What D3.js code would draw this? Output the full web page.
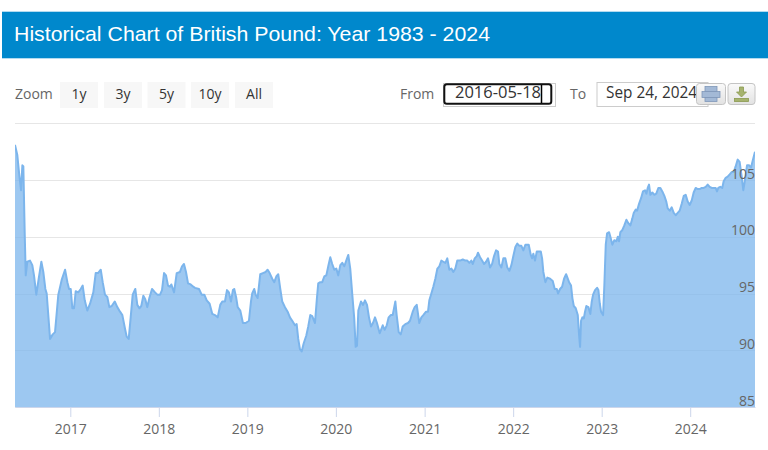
<!DOCTYPE html>
<html>
<head>
<meta charset="utf-8">
<script src="https://cdn.jsdelivr.net/npm/d3@7/dist/d3.min.js"></script>
<style>
  html, body { margin: 0; padding: 0; background: #fff; }
  svg { display: block; }
</style>
</head>
<body>
<svg id="chart" width="768" height="450"></svg>
<script>
// ---------------- data ----------------
const titleText = "Historical Chart of British Pound: Year 1983 - 2024";
const zoomButtons = ["1y", "3y", "5y", "10y", "All"];
const fromText = "2016-05-18";
const toText = "Sep 24, 2024";
const yearTicks = [2017, 2018, 2019, 2020, 2021, 2022, 2023, 2024];
const yGridValues = [85, 90, 95, 100, 105, 110];
const yTickLabels = [85, 90, 95, 100, 105];

// dates as decimal years
const yearFrac = [
  2016.377,2016.403,2016.426,2016.445,2016.460,2016.471,2016.487,2016.498,2016.516,2016.546,
  2016.572,2016.591,2016.617,2016.644,2016.674,2016.696,2016.719,2016.734,2016.772,2016.802,
  2016.828,2016.865,2016.903,2016.941,2016.967,2016.986,
  2017.005,2017.023,2017.042,2017.061,2017.090,2017.118,2017.140,2017.163,2017.192,2017.223,
  2017.260,2017.287,2017.313,2017.344,2017.366,2017.392,2017.418,2017.441,2017.468,2017.502,
  2017.531,2017.562,2017.588,2017.618,2017.637,2017.660,2017.682,2017.705,2017.734,2017.757,
  2017.780,2017.802,2017.825,2017.847,2017.870,2017.893,2017.923,2017.957,2017.983,
  2018.014,2018.036,2018.059,2018.081,2018.104,2018.126,2018.141,2018.172,2018.202,2018.239,
  2018.262,2018.284,2018.307,2018.330,2018.360,2018.389,2018.409,2018.454,2018.484,2018.514,
  2018.541,2018.574,2018.604,2018.634,2018.665,2018.694,2018.717,2018.747,2018.770,2018.792,
  2018.815,2018.837,2018.852,2018.875,2018.891,2018.920,2018.950,2018.981,
  2019.018,2019.041,2019.055,2019.078,2019.094,2019.116,2019.146,2019.176,2019.207,2019.229,
  2019.252,2019.281,2019.304,2019.327,2019.349,2019.372,2019.394,2019.425,2019.455,2019.481,
  2019.507,2019.538,2019.557,2019.575,2019.594,2019.614,2019.636,2019.666,2019.688,2019.711,
  2019.733,2019.764,2019.786,2019.801,2019.824,2019.846,2019.869,2019.892,2019.914,2019.937,
  2019.959,2019.982,
  2020.005,2020.027,2020.050,2020.072,2020.095,2020.117,2020.140,2020.162,2020.185,2020.207,
  2020.223,2020.238,2020.253,2020.283,2020.306,2020.328,2020.351,2020.373,2020.396,2020.418,
  2020.441,2020.463,2020.494,2020.528,2020.550,2020.573,2020.595,2020.618,2020.640,2020.670,
  2020.685,2020.708,2020.731,2020.753,2020.782,2020.813,2020.835,2020.866,2020.888,2020.911,
  2020.940,2020.963,2020.985,
  2021.016,2021.038,2021.053,2021.076,2021.098,2021.121,2021.144,2021.166,2021.189,2021.211,
  2021.234,2021.256,2021.279,2021.302,2021.324,2021.347,2021.369,2021.400,2021.431,2021.460,
  2021.482,2021.505,2021.528,2021.544,2021.566,2021.589,2021.603,2021.626,2021.649,2021.671,
  2021.694,2021.716,2021.739,2021.762,2021.784,2021.807,2021.829,2021.844,2021.867,2021.889,
  2021.912,2021.934,2021.957,2021.980,
  2022.002,2022.025,2022.047,2022.070,2022.093,2022.115,2022.138,2022.176,2022.199,2022.214,
  2022.228,2022.247,2022.267,2022.289,2022.312,2022.327,2022.341,2022.364,2022.386,2022.417,
  2022.447,2022.470,2022.493,2022.507,2022.530,2022.553,2022.575,2022.598,2022.632,2022.654,
  2022.669,2022.685,2022.707,2022.730,2022.745,2022.756,2022.767,2022.782,2022.798,2022.812,
  2022.827,2022.850,2022.872,2022.888,2022.903,2022.925,2022.948,2022.963,2022.979,2022.993,
  2023.016,2023.030,2023.046,2023.061,2023.084,2023.098,2023.121,2023.143,2023.166,2023.182,
  2023.196,2023.211,2023.234,2023.256,2023.279,2023.301,2023.324,2023.346,2023.362,2023.385,
  2023.400,2023.422,2023.445,2023.467,2023.490,2023.505,2023.520,2023.535,2023.550,2023.572,
  2023.595,2023.617,2023.640,2023.663,2023.685,2023.708,2023.730,2023.746,2023.769,2023.791,
  2023.814,2023.836,2023.859,2023.881,2023.904,2023.927,2023.949,2023.972,2023.994,
  2024.017,2024.039,2024.062,2024.084,2024.107,2024.130,2024.152,2024.175,2024.197,2024.220,
  2024.242,2024.265,2024.287,2024.302,2024.316,2024.339,2024.361,2024.377,2024.400,2024.422,
  2024.445,2024.467,2024.490,2024.512,2024.535,2024.557,2024.580,2024.598,2024.617,2024.640,
  2024.662,2024.685,2024.707,2024.730
];

const gbpIndex = [
  108.1,107.2,105.4,104.1,106.3,106.2,100.1,96.6,97.8,97.9,
  97.5,96.6,94.9,96.3,97.8,96.9,95.4,95.0,91.0,91.4,
  91.6,94.9,96.2,97.1,96.0,95.4,
  95.4,93.7,93.7,95.2,95.1,95.4,95.7,94.4,93.5,94.1,
  95.1,96.8,96.8,97.1,96.0,94.9,94.7,93.8,93.9,94.3,
  93.8,93.4,93.1,91.9,91.2,91.0,92.9,94.9,95.4,94.0,
  93.7,93.9,94.8,94.5,93.8,94.6,95.4,95.1,94.9,
  94.9,95.3,96.8,96.6,95.7,95.6,95.8,95.1,96.8,96.9,
  97.4,97.6,96.9,95.9,95.8,95.6,95.5,95.4,94.9,94.9,
  94.4,94.1,93.2,93.1,92.9,94.0,94.3,94.3,95.3,95.1,
  94.3,95.3,95.4,94.6,93.8,93.5,92.4,92.4,
  92.6,94.3,95.0,95.4,94.9,94.6,96.7,96.8,96.9,97.1,
  96.8,96.3,96.0,96.5,96.7,95.4,94.3,93.8,93.4,92.9,
  92.6,92.2,92.3,91.0,90.1,89.9,90.6,91.3,92.1,93.1,
  93.0,92.4,94.6,95.9,96.0,96.0,96.5,96.6,97.4,98.2,
  97.6,97.1,
  97.2,96.6,97.5,97.7,97.4,97.9,98.4,97.2,94.9,92.8,
  90.3,90.4,93.5,94.3,94.0,94.4,94.0,92.9,92.1,92.4,
  92.9,92.4,91.5,92.2,91.8,92.2,92.9,93.1,93.1,94.3,
  93.1,91.6,91.4,92.1,92.3,92.4,92.6,93.4,93.8,94.0,
  92.4,92.9,93.1,
  93.4,93.4,94.4,95.0,95.6,96.3,97.2,97.4,97.9,97.8,
  97.7,98.1,97.1,97.2,96.9,97.2,97.9,97.9,98.0,97.9,
  97.9,97.7,97.9,97.6,98.1,98.3,98.6,98.2,97.9,97.6,
  97.8,98.1,97.3,97.6,98.3,98.8,98.7,97.6,97.3,98.1,
  98.1,97.3,97.0,97.5,
  98.3,99.1,99.4,99.2,99.2,98.8,99.3,99.3,98.4,98.1,
  98.5,97.9,98.7,98.7,98.7,98.1,96.9,96.0,96.4,96.3,
  96.1,95.4,95.4,95.0,95.4,95.6,96.3,96.7,96.0,95.7,
  94.6,93.9,93.7,93.1,91.3,90.3,92.6,92.9,92.8,93.4,
  93.9,93.8,93.2,94.3,94.9,95.3,95.5,95.3,94.1,93.4,
  93.1,95.7,99.3,100.3,100.4,100.0,99.3,99.7,99.6,100.0,
  99.6,100.4,100.6,101.0,101.5,101.2,101.0,101.6,102.1,102.4,
  102.3,102.9,103.4,104.0,104.1,103.8,104.3,104.6,103.7,103.9,
  103.7,103.8,104.3,104.3,104.0,103.6,103.1,102.5,102.3,102.6,
  102.1,101.9,102.1,102.3,102.9,103.6,103.7,103.1,102.8,
  103.2,103.9,104.3,104.2,104.2,104.3,104.3,104.4,104.6,104.4,
  104.3,104.3,104.3,104.0,104.3,104.4,104.3,104.9,105.2,105.3,
  105.5,105.7,105.7,106.2,106.8,106.6,105.3,104.1,105.0,106.3,
  106.3,106.1,106.8,107.5
];

// ---------------- helpers ----------------
function toDate(t) {
  const y = Math.floor(t);
  const a = Date.UTC(y, 0, 1), b = Date.UTC(y + 1, 0, 1);
  return new Date(a + (t - y) * (b - a));
}
const data = yearFrac.map((t, i) => ({ date: toDate(t), value: gbpIndex[i] }));

const svg = d3.select("#chart");
const W = 768, H = 450;
const plot = { left: 15, right: 755, top: 123.3, bottom: 407 };

const labelFont = "'Open Sans', 'DejaVu Sans', sans-serif";

// ---------------- header ----------------
svg.append("rect").attr("x", 2).attr("y", 11.7).attr("width", W - 2).attr("height", 46.6)
  .attr("fill", "#0088cc");
svg.append("text").attr("x", 14).attr("y", 41)
  .attr("font-family", "'Liberation Sans', Arial, sans-serif")
  .attr("font-size", 21).attr("fill", "#fff")
  .attr("textLength", 476).attr("lengthAdjust", "spacingAndGlyphs")
  .text(titleText);

// ---------------- toolbar ----------------
svg.append("text").attr("x", 15).attr("y", 99)
  .attr("font-family", labelFont).attr("font-size", 14).attr("fill", "#666")
  .text("Zoom");

const btnX = [60, 104, 147.5, 191, 235];
const btnG = svg.append("g");
zoomButtons.forEach((b, i) => {
  btnG.append("rect").attr("x", btnX[i]).attr("y", 82).attr("width", 38).attr("height", 26)
    .attr("fill", "#f7f7f7");
  btnG.append("text").attr("x", btnX[i] + 19).attr("y", 99).attr("text-anchor", "middle")
    .attr("font-family", labelFont).attr("font-size", 14).attr("fill", "#333")
    .text(b);
});

svg.append("text").attr("x", 400).attr("y", 98.5)
  .attr("font-family", labelFont).attr("font-size", 14).attr("fill", "#666").text("From");
// from input (focused)
svg.append("rect").attr("x", 443.5).attr("y", 83.5).attr("width", 112).attr("height", 23)
  .attr("fill", "#fff").attr("stroke", "#ccc").attr("stroke-width", 1);
svg.append("rect").attr("x", 444.3).attr("y", 84.3).attr("width", 107).attr("height", 19.5)
  .attr("rx", 2.5).attr("fill", "#fff").attr("stroke", "#111").attr("stroke-width", 2);
svg.append("text").attr("x", 455).attr("y", 98.3)
  .attr("font-family", labelFont).attr("font-size", 16).attr("fill", "#333")
  .attr("textLength", 86).attr("lengthAdjust", "spacingAndGlyphs").text(fromText);
svg.append("line").attr("x1", 541.5).attr("x2", 541.5).attr("y1", 85).attr("y2", 103)
  .attr("stroke", "#000").attr("stroke-width", 1.5);

svg.append("text").attr("x", 570).attr("y", 98.5)
  .attr("font-family", labelFont).attr("font-size", 14).attr("fill", "#666").text("To");
svg.append("rect").attr("x", 597).attr("y", 82.5).attr("width", 111).attr("height", 24)
  .attr("fill", "#fff").attr("stroke", "#ccc").attr("stroke-width", 1);
svg.append("text").attr("x", 606).attr("y", 98.3)
  .attr("font-family", labelFont).attr("font-size", 16).attr("fill", "#333")
  .attr("textLength", 91).attr("lengthAdjust", "spacingAndGlyphs").text(toText);

// export buttons
const grad = svg.append("defs").append("linearGradient").attr("id", "btnGrad")
  .attr("x1", 0).attr("y1", 0).attr("x2", 0).attr("y2", 1);
grad.append("stop").attr("offset", "0%").attr("stop-color", "#fafafa");
grad.append("stop").attr("offset", "100%").attr("stop-color", "#e2e2e2");
svg.append("rect").attr("x", 696.5).attr("y", 83.5).attr("width", 29).attr("height", 21)
  .attr("rx", 3).attr("fill", "url(#btnGrad)").attr("stroke", "#c4c4c4");
svg.append("rect").attr("x", 728).attr("y", 83.5).attr("width", 27).attr("height", 21)
  .attr("rx", 3).attr("fill", "url(#btnGrad)").attr("stroke", "#c4c4c4");
// print icon
const pi = svg.append("g").attr("fill", "#a3b9d6").attr("stroke", "#7f97b8").attr("stroke-width", 0.8);
pi.append("rect").attr("x", 705).attr("y", 86.5).attr("width", 12).attr("height", 5);
pi.append("rect").attr("x", 702).attr("y", 91.5).attr("width", 18).attr("height", 6);
pi.append("rect").attr("x", 705).attr("y", 97.5).attr("width", 12).attr("height", 4);
// download icon
const di = svg.append("g").attr("fill", "#a6b36e").attr("stroke", "#8a9a50").attr("stroke-width", 0.8);
di.append("path").attr("d", "M739.5,87 h4 v5 h3 l-5,5 l-5,-5 h3 z");
di.append("rect").attr("x", 734.5).attr("y", 98.5).attr("width", 14).attr("height", 3);

// ---------------- scales ----------------
const x = d3.scaleUtc()
  .domain([data[0].date, data[data.length - 1].date])
  .range([plot.left, plot.right]);
const y = d3.scaleLinear().domain([85, 110]).range([plot.bottom, plot.top]);

// grid
svg.append("g").selectAll("line").data(yGridValues).join("line")
  .attr("x1", plot.left).attr("x2", plot.right)
  .attr("y1", d => Math.round(y(d)) + 0.5).attr("y2", d => Math.round(y(d)) + 0.5)
  .attr("stroke", "#e6e6e6").attr("stroke-width", 1);

// area + line
svg.append("defs").append("clipPath").attr("id", "clip")
  .append("rect").attr("x", plot.left).attr("y", plot.top - 5)
  .attr("width", plot.right - plot.left).attr("height", plot.bottom - plot.top + 5);

const area = d3.area().x(d => x(d.date)).y0(y(85)).y1(d => y(d.value));
const line = d3.line().x(d => x(d.date)).y(d => y(d.value));
const g = svg.append("g").attr("clip-path", "url(#clip)");
g.append("path").datum(data).attr("d", area).attr("fill", "#7cb5ec").attr("fill-opacity", 0.75);
g.append("path").datum(data).attr("d", line).attr("fill", "none")
  .attr("stroke", "#7cb5ec").attr("stroke-width", 2).attr("stroke-linejoin", "round");

// x axis
const xAxis = d3.axisBottom(x)
  .tickValues(yearTicks.map(yr => new Date(Date.UTC(yr, 0, 1))))
  .tickFormat(d3.utcFormat("%Y"))
  .tickSize(10).tickSizeOuter(0).tickPadding(7);
const xg = svg.append("g").attr("transform", `translate(0,${plot.bottom})`).call(xAxis);
xg.select(".domain").attr("stroke", "#ccd6eb");
xg.selectAll(".tick line").attr("stroke", "#ccd6eb");
xg.selectAll(".tick text").attr("font-family", labelFont).attr("font-size", 14).attr("fill", "#666");

// y labels (inside plot, right aligned, above gridline)
const yAxis = d3.axisRight(y).tickValues(yTickLabels).tickSize(0).tickPadding(0);
const yg = svg.append("g").attr("transform", `translate(${plot.right},0)`).call(yAxis);
yg.select(".domain").remove();
yg.selectAll(".tick text")
  .attr("text-anchor", "end").attr("x", 0).attr("dy", "-2px")
  .attr("font-family", labelFont).attr("font-size", 14).attr("fill", "#666");
</script>
</body>
</html>
